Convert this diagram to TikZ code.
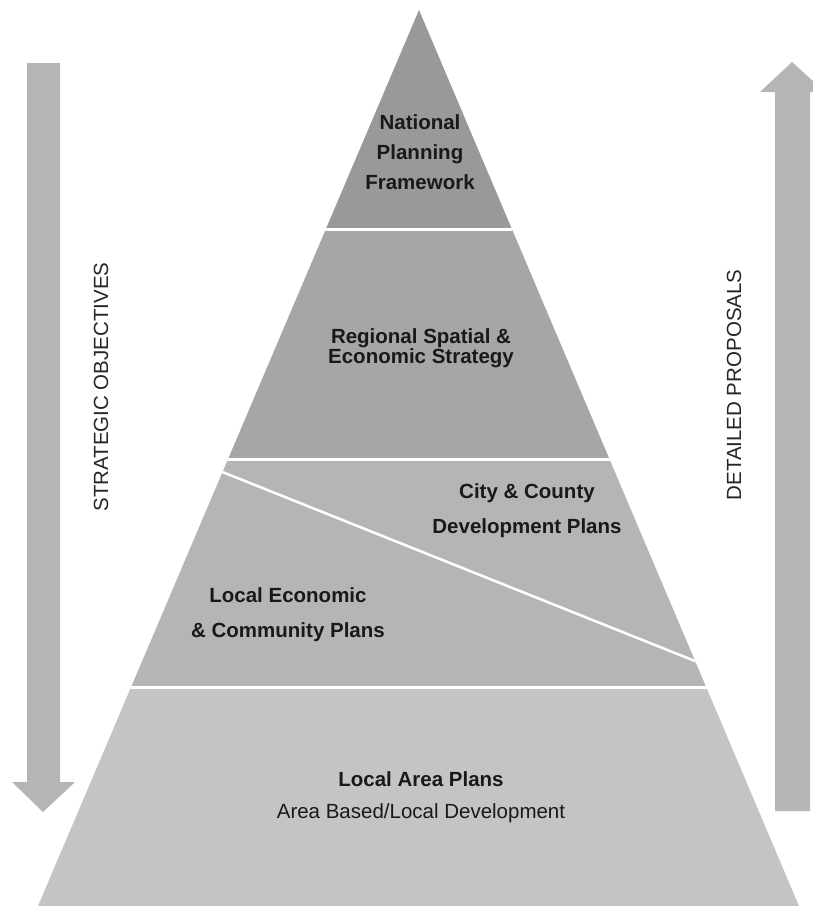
\documentclass[tikz,border=0pt]{standalone}
\usepackage{fontspec}
\setmainfont{Liberation Sans}
\begin{document}
\begin{tikzpicture}[x=1pt,y=-1pt,
  tiertext/.style={font=\fontsize{20.5}{30}\selectfont\bfseries, align=center, text=black!90},
  sidetext/.style={font=\fontsize{20.5}{24}\selectfont, text=black!85, rotate=90},
  arrowfill/.style={fill=black!29, draw=none}]
\useasboundingbox (0,0) rectangle (813,906);
\fill[white] (0,0) rectangle (813,906);
% arrows
\fill[arrowfill] (27,63) -- (60,63) -- (60,782) -- (75,782) -- (43,812) -- (12,782) -- (27,782) -- cycle;
\begin{scope}
\clip (0,0) rectangle (813,906);
\fill[arrowfill] (775,811) -- (810,811) -- (810,92) -- (825,92) -- (792,62) -- (760,92) -- (775,92) -- cycle;
\end{scope}
% pyramid
\begin{scope}
\clip (419,10) -- (799,906) -- (38,906) -- cycle;
\fill[black!40] (0,0) rectangle (813,229);
\fill[black!35] (0,229) rectangle (813,459);
\fill[black!29] (0,459) rectangle (813,687);
\fill[black!23] (0,687) rectangle (813,906);
\draw[white, line width=3pt] (0,229.5) -- (813,229.5);
\draw[white, line width=3pt] (0,459.5) -- (813,459.5);
\draw[white, line width=3pt] (0,687) -- (813,687);
\begin{scope}
\clip (0,461) rectangle (813,685.5);
\draw[white, line width=2.5pt] (200,463) -- (760,687);
\end{scope}
\end{scope}
% texts
\node[tiertext] (npf) at (420,152) {National\\Planning\\Framework};
\node[tiertext, font=\fontsize{20.5}{20}\selectfont\bfseries] (rses) at (421,348) {Regional Spatial \&\\Economic Strategy};
\node[tiertext, font=\fontsize{20.5}{35}\selectfont\bfseries] (ccdp) at (527,511) {City \& County\\Development Plans};
\node[tiertext, font=\fontsize{20.5}{35}\selectfont\bfseries] (lecp) at (288,615) {Local Economic\\\& Community Plans};
\node[tiertext, font=\fontsize{20.5}{32}\selectfont] (lap) at (421,797) {\textbf{Local Area Plans}\\Area Based/Local Development};
\node[sidetext] (so) at (101,387) {STRATEGIC OBJECTIVES};
\node[sidetext] (dp) at (734,385) {DETAILED PROPOSALS};
\end{tikzpicture}
\end{document}
